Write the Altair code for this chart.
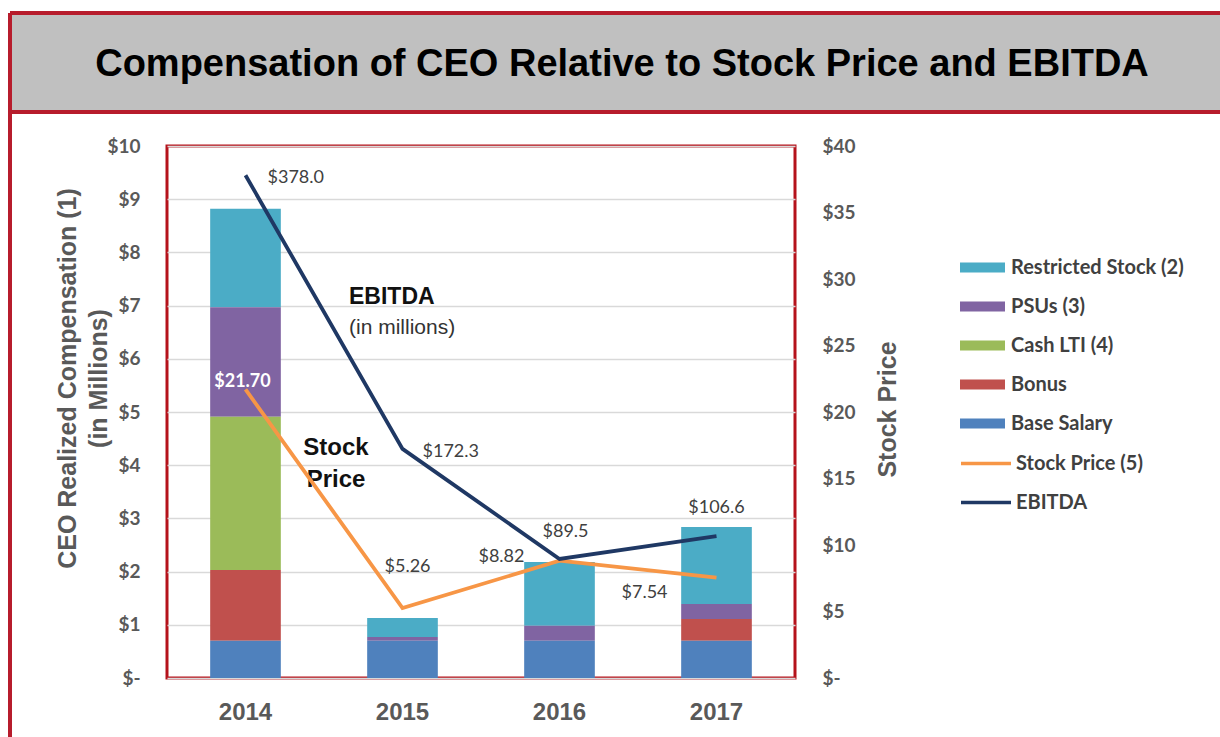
import altair as alt
import pandas as pd

# ---------------- data ----------------
years = ["2014", "2015", "2016", "2017"]
components = ["Restricted Stock (2)", "PSUs (3)", "Cash LTI (4)", "Bonus", "Base Salary"]
restricted_stock = [1.85, 0.36, 1.20, 1.45]
psus = [2.06, 0.07, 0.28, 0.28]
cash_lti = [2.88, 0.00, 0.00, 0.00]
bonus = [1.33, 0.00, 0.00, 0.41]
base_salary = [0.70, 0.70, 0.70, 0.70]
stock_price = [21.70, 5.26, 8.82, 7.54]
ebitda = [378.0, 172.3, 89.5, 106.6]
line_series = ["Stock Price (5)", "EBITDA"]
left_ticks = [0, 1, 2, 3, 4, 5, 6, 7, 8, 9, 10]
right_ticks = [0, 5, 10, 15, 20, 25, 30, 35, 40]

comp_colors = ["#4BACC6", "#8064A2", "#9BBB59", "#C0504D", "#4F81BD"]
line_colors = ["#F79646", "#1F3864"]
RED = "#B71C2C"

series_vals = [restricted_stock, psus, cash_lti, bonus, base_salary]
rows = []
for ci, (comp, vals) in enumerate(zip(components, series_vals)):
    for y, v in zip(years, vals):
        rows.append({"year": y, "component": comp, "value": v,
                     "stack_idx": len(components) - 1 - ci})
bar_df = pd.DataFrame(rows)
stock_df = pd.DataFrame({"year": years, "value": stock_price, "series": line_series[0]})
ebitda_df = pd.DataFrame({"year": years, "value": ebitda, "series": line_series[1]})

# ---------------- shared encodings ----------------
x_axis = alt.Axis(title=None, labelAngle=0, labelFont="Liberation Sans", labelFontSize=24,
                  labelFontWeight="bold", labelColor="#595959", labelPadding=22,
                  ticks=False, domain=False)
x_scale = alt.Scale(domain=years, paddingInner=0.55, paddingOuter=0.275)


def x_enc():
    return alt.X("year:N", sort=years, scale=x_scale, axis=x_axis)


tick_expr = "datum.value == 0 ? '$-' : '$' + datum.value"
left_axis = alt.Axis(values=left_ticks, labelExpr=tick_expr, labelFont="Lato", labelFontSize=19,
                     labelFontWeight="bold", labelColor="#595959", labelPadding=27,
                     ticks=False, domain=False, grid=True, gridColor="#D9D9D9", gridWidth=1.5,
                     title=["CEO Realized Compensation (1)", "(in Millions)"],
                     titleFont="Liberation Sans", titleFontSize=25, titleFontWeight="bold",
                     titleColor="#595959", titleAngle=270, titleX=-100, titleY=232,
                     titleAlign="center", titleBaseline="middle", titleLineHeight=31, orient="left")
right_axis = alt.Axis(values=right_ticks, labelExpr=tick_expr, labelFont="Lato", labelFontSize=19,
                      labelFontWeight="bold", labelColor="#595959", labelPadding=27,
                      ticks=False, domain=False, grid=False, title="Stock Price",
                      titleFont="Liberation Sans", titleFontSize=25, titleFontWeight="bold",
                      titleColor="#595959", titleAngle=270, titleX=92, titleY=263,
                      titleAlign="center", titleBaseline="middle", orient="right")

bar_legend = alt.Legend(title=None, orient="none", legendX=793, legendY=103,
                        symbolType="M-1,-0.22L1,-0.22L1,0.22L-1,0.22Z", symbolSize=2025,
                        symbolStrokeWidth=0, symbolOpacity=1, labelFont="Lato", labelFontSize=20,
                        labelFontWeight="bold", labelColor="#404040", clipHeight=37,
                        rowPadding=2, padding=0, labelOffset=6, labelLimit=400)
line_legend = alt.Legend(title=None, orient="none", legendX=792, legendY=299,
                         symbolType="stroke", symbolSize=2500, symbolStrokeWidth=3.5,
                         labelFont="Lato", labelFontSize=20, labelFontWeight="bold",
                         labelColor="#404040", clipHeight=37, rowPadding=2, padding=0,
                         labelOffset=3, labelLimit=400)
stroke_enc = alt.Stroke("series:N", scale=alt.Scale(domain=line_series, range=line_colors),
                        legend=line_legend)

one = alt.Data(values=[{"k": 1}])

# ---------------- decorations ----------------
banner = alt.Chart(one).mark_rect(color="#C0C0C0").encode(
    x=alt.value(-157), x2=alt.value(1063), y=alt.value(-133), y2=alt.value(-34))
frame_top = alt.Chart(one).mark_rule(color=RED, strokeWidth=4).encode(
    x=alt.value(-157), x2=alt.value(1063), y=alt.value(-133), y2=alt.value(-133))
frame_mid = alt.Chart(one).mark_rule(color=RED, strokeWidth=4).encode(
    x=alt.value(-157), x2=alt.value(1063), y=alt.value(-34), y2=alt.value(-34))
frame_left = alt.Chart(one).mark_rule(color=RED, strokeWidth=4).encode(
    x=alt.value(-157), x2=alt.value(-157), y=alt.value(-133), y2=alt.value(600))
title = alt.Chart(one).mark_text(font="Liberation Sans", fontSize=38, fontWeight="bold",
                                 color="#000000", align="center", baseline="middle").encode(
    x=alt.value(455), y=alt.value(-81),
    text=alt.value("Compensation of CEO Relative to Stock Price and EBITDA"))


def note(txt, x, y, size, weight, align="left", color="#111111"):
    return alt.Chart(one).mark_text(font="Liberation Sans", fontSize=size, fontWeight=weight,
                                    color=color, align=align, baseline="middle").encode(
        x=alt.value(x), y=alt.value(y), text=alt.value(txt))


notes = [
    note("EBITDA", 182, 151, 23, "bold"),
    note("(in millions)", 182, 182, 21, "normal", color="#333333"),
    note("Stock", 169, 302, 24, "bold", align="center"),
    note("Price", 169, 334, 24, "bold", align="center"),
]

# ---------------- bars ----------------
bars = alt.Chart(bar_df).mark_bar().encode(
    x=x_enc(),
    y=alt.Y("value:Q", stack="zero", scale=alt.Scale(domain=[0, 10], nice=False), axis=left_axis),
    color=alt.Color("component:N", scale=alt.Scale(domain=components, range=comp_colors),
                    legend=bar_legend),
    order=alt.Order("stack_idx:Q", sort="ascending"),
)

left = alt.layer(banner, frame_top, frame_mid, frame_left, title, bars, *notes)

# ---------------- stock price line ----------------
stock_y = alt.Y("value:Q", scale=alt.Scale(domain=[0, 40], nice=False), axis=right_axis)
stock_line = alt.Chart(stock_df).mark_line(strokeWidth=3.8).encode(
    x=x_enc(), y=stock_y, stroke=stroke_enc)


def label(df, year, fmt, dx, dy, align, color="#404040", yenc=None, weight="normal"):
    return alt.Chart(df).transform_filter(alt.datum.year == year).mark_text(
        font="Lato", fontSize=18, color=color, align=align, baseline="middle", dx=dx, dy=dy,
        fontWeight=weight
    ).encode(x=x_enc(), y=yenc, text=alt.Text("value:Q", format=fmt))


stock_labels = [
    label(stock_df, "2014", "$.2f", -3, -7, "center", color="#FFFFFF", yenc=stock_y, weight="bold"),
    label(stock_df, "2015", "$.2f", 5, -41, "center", yenc=stock_y),
    label(stock_df, "2016", "$.2f", -35, -4, "right", yenc=stock_y),
    label(stock_df, "2017", "$.2f", -72, 15, "center", yenc=stock_y),
]
stock_layer = alt.layer(stock_line, *stock_labels)

# ---------------- EBITDA line ----------------
eb_y = alt.Y("value:Q", scale=alt.Scale(domain=[0, 400], nice=False), axis=None)
eb_line = alt.Chart(ebitda_df).mark_line(strokeWidth=3.8).encode(
    x=x_enc(), y=eb_y, stroke=stroke_enc)
eb_labels = [
    label(ebitda_df, "2014", "$.1f", 22, 3, "left", yenc=eb_y),
    label(ebitda_df, "2015", "$.1f", 20, 3, "left", yenc=eb_y),
    label(ebitda_df, "2016", "$.1f", 6, -27, "center", yenc=eb_y),
    label(ebitda_df, "2017", "$.1f", 0, -28, "center", yenc=eb_y),
]
eb_layer = alt.layer(eb_line, *eb_labels)

chart = alt.layer(left, stock_layer, eb_layer).resolve_scale(y="independent").properties(
    width=628, height=532,
    padding={"left": 167, "top": 146, "right": 425, "bottom": 59},
    autosize=alt.AutoSizeParams(type="none"),
    background="#FFFFFF",
).configure_view(stroke="#B5121B", strokeWidth=3)

chart.save("out.html", embed_options={"renderer": "svg", "actions": False})
